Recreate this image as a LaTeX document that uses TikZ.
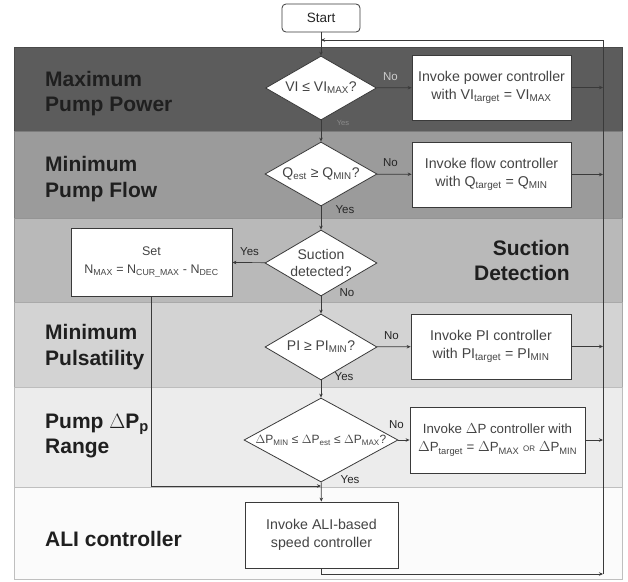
\documentclass[tikz,border=0pt]{standalone}
\usepackage{fontspec}
\setmainfont{Liberation Sans}
\usetikzlibrary{shapes.geometric,arrows.meta}
\newcommand\lo[1]{\textsubscript{#1}}
\definecolor{bandA}{HTML}{5C5C5C}
\definecolor{bandB}{HTML}{9B9B9B}
\definecolor{bandC}{HTML}{B9B9B9}
\definecolor{bandD}{HTML}{D3D3D3}
\definecolor{bandE}{HTML}{ECECEC}
\definecolor{bandF}{HTML}{FBFBFB}
\definecolor{ink}{HTML}{3A3A3A}
\definecolor{boxtext}{HTML}{444444}
\begin{document}
\begin{tikzpicture}[x=1pt,y=-1pt,
  band/.style={draw=#1!80!black,line width=0.5pt,fill=#1},
  lane/.style={font=\fontsize{21}{25}\selectfont\bfseries,text=black!88,inner sep=0pt},
  proc/.style={draw=ink,line width=0.8pt,fill=white,inner sep=0pt,align=center,
    text=boxtext,font=\fontsize{14.2}{18}\selectfont},
  test/.style={diamond,draw=ink,line width=0.8pt,fill=white,inner sep=0pt},
  testtext/.style={inner sep=0pt,align=center,text=boxtext,font=\fontsize{14}{17}\selectfont},
  arr/.style={draw=ink,line width=0.7pt,-{Stealth[length=4pt,width=3.5pt]}},
  tag/.style={font=\fontsize{11.5}{12}\selectfont,text=black!85,inner sep=0pt}]
\useasboundingbox (0,0) rectangle (628,581);
\fill[white] (0,0) rectangle (628,581);

% horizontal bands
\path[band=bandA] (14,47) rectangle (622,131);
\path[band=bandB] (14,131) rectangle (622,218);
\path[band=bandC] (14,218) rectangle (622,302);
\path[band=bandD] (14,302) rectangle (622,387);
\path[band=bandE] (14,387) rectangle (622,487);
\path[draw=black!25,line width=0.5pt,fill=bandF] (14,487) rectangle (622,579);

% band titles
\node[lane,anchor=base west] (t1a) at (45,86) {Maximum};
\node[lane,anchor=base west] (t1b) at (45,111) {Pump Power};
\node[lane,anchor=base west] (t2a) at (45,171) {Minimum};
\node[lane,anchor=base west] (t2b) at (45,197) {Pump Flow};
\node[lane,anchor=base east] (t3a) at (570,255) {Suction};
\node[lane,anchor=base east] (t3b) at (570,280) {Detection};
\node[lane,anchor=base west] (t4a) at (45,339) {Minimum};
\node[lane,anchor=base west] (t4b) at (45,365) {Pulsatility};
\node[lane,anchor=base west] (t5a) at (45,428) {Pump $\Delta$P\lo{p}};
\node[lane,anchor=base west] (t5b) at (45,453) {Range};
\node[lane,anchor=base west] (t6a) at (45,546) {ALI controller};

% flow nodes
\node[proc,rounded corners=4pt,minimum width=78pt,minimum height=28pt,text=black!85,
  font=\fontsize{13.5}{16}\selectfont] (start) at (321,18) {Start};

\node[test,minimum width=111pt,minimum height=64pt] (d1) at (321,88) {};
\node[testtext] (d1t) at (d1) {VI ≤ VI\lo{MAX}?};
\node[proc,minimum width=159pt,minimum height=65pt] (b1) at (491.5,87.5) {Invoke power controller\\with VI\lo{target} = VI\lo{MAX}};

\node[test,minimum width=112pt,minimum height=64pt] (d2) at (321,174) {};
\node[testtext] (d2t) at (d2) {Q\lo{est} ≥ Q\lo{MIN}?};
\node[proc,minimum width=159pt,minimum height=65pt] (b2) at (491.5,174.5) {Invoke flow controller\\with Q\lo{target} = Q\lo{MIN}};

\node[test,minimum width=112pt,minimum height=66pt] (d3) at (321,263) {};
\node[testtext] (d3t) at (d3) {Suction\\detected?};
\node[proc,minimum width=161pt,minimum height=68pt,font=\fontsize{12.5}{18}\selectfont] (b3) at (151.5,262) {Set\\N\lo{MAX} = N\lo{CUR\_MAX} - N\lo{DEC}};

\node[test,minimum width=112pt,minimum height=66pt] (d4) at (321,347) {};
\node[testtext] (d4t) at (d4) {PI ≥ PI\lo{MIN}?};
\node[proc,minimum width=160pt,minimum height=65pt] (b4) at (491,346.5) {Invoke PI controller\\with PI\lo{target} = PI\lo{MIN}};

\node[test,minimum width=154pt,minimum height=84pt] (d5) at (321,440) {};
\node[testtext,font=\fontsize{12}{14}\selectfont] (d5t) at (d5) {$\Delta$P\lo{MIN} ≤ $\Delta$P\lo{est} ≤ $\Delta$P\lo{MAX}?};
\node[proc,minimum width=175pt,minimum height=66pt,font=\fontsize{13.3}{18}\selectfont] (b5) at (497.5,440) {Invoke $\Delta$P controller with\\$\Delta$P\lo{target} = $\Delta$P\lo{MAX} {\fontsize{8}{9}\selectfont OR} $\Delta$P\lo{MIN}};

\node[proc,minimum width=153pt,minimum height=66pt] (b6) at (321.5,535) {Invoke ALI-based\\speed controller};

% return rail
\coordinate (railtop) at (603,40);
\coordinate (railbot) at (603,574);
\coordinate (join) at (321,40);
\coordinate (merge) at (321,486);

% main flow
\draw[arr] (start) -- (d1);
\draw[arr] (d1) -- (b1);
\draw[arr] (d1) -- (d2);
\draw[arr] (d2) -- (b2);
\draw[arr] (d2) -- (d3);
\draw[arr] (d3) -- (b3);
\draw[arr] (d3) -- (d4);
\draw[arr] (d4) -- (b4);
\draw[arr] (d4) -- (d5);
\draw[arr] (d5) -- (b5);
\draw[arr] (d5) -- (b6);

% branch labels
\path (d1.east) ++(13.5,-11) node[tag,text=black!20] (n1) {No};
\path (d1.south) ++(22,3) node[tag,text=black!45,font=\fontsize{7.5}{8}\selectfont] (y1) {Yes};
\path (d2.east) ++(13,-11) node[tag] (n2) {No};
\path (d2.south) ++(24,3) node[tag] (y2) {Yes};
\path (d3.west) ++(-15,-11) node[tag] (y3) {Yes};
\path (d3.south) ++(26,-4) node[tag] (n3) {No};
\path (d4.east) ++(14,-11) node[tag] (n4) {No};
\path (d4.south) ++(23,-4) node[tag] (y4) {Yes};
\path (d5.east) ++(-2,-15) node[tag] (n5) {No};
\path (d5.south) ++(29,-3) node[tag] (y5) {Yes};

% branch from the suction box into the main line
\draw[arr] (b3.south) |- (merge);

% controller outputs back to the rail
\draw[arr] (b1.east) -- (b1.east -| railtop);
\draw[arr] (b2.east) -- (b2.east -| railtop);
\draw[arr] (b4.east) -- (b4.east -| railtop);
\draw[arr] (b5.east) -- (b5.east -| railtop);
\draw[arr] (b6.south) |- (railbot);
\draw[arr] (railbot) -- (railtop) -- (join);
\end{tikzpicture}
\end{document}
